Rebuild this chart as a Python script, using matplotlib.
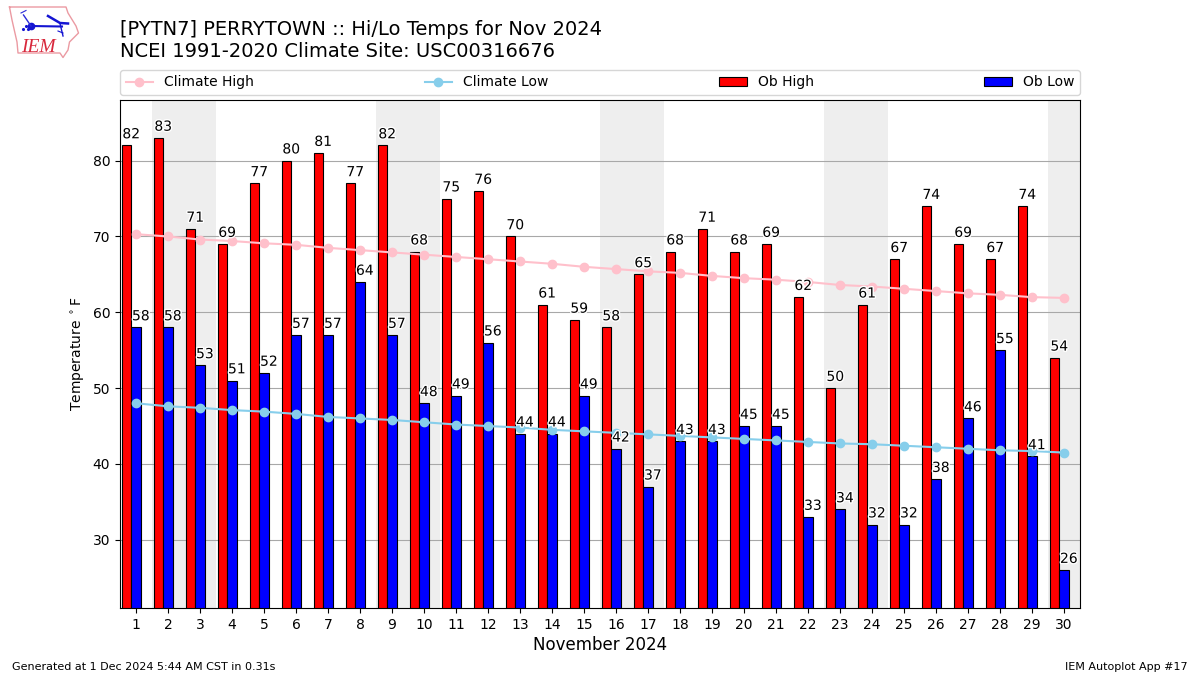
import matplotlib
matplotlib.use("Agg")
import matplotlib.pyplot as plt
import matplotlib.patheffects as pe
import numpy as np

days = list(range(1, 31))
ob_high = [82, 83, 71, 69, 77, 80, 81, 77, 82, 68, 75, 76, 70, 61, 59, 58, 65, 68, 71, 68, 69, 62, 50, 61, 67, 74, 69, 67, 74, 54]
ob_low = [58, 58, 53, 51, 52, 57, 57, 64, 57, 48, 49, 56, 44, 44, 49, 42, 37, 43, 43, 45, 45, 33, 34, 32, 32, 38, 46, 55, 41, 26]
climate_high = [70.3, 70.0, 69.6, 69.4, 69.1, 68.9, 68.5, 68.2, 67.9, 67.6, 67.3, 67.0, 66.7, 66.4, 66.0,
                65.7, 65.4, 65.2, 64.8, 64.5, 64.3, 64.0, 63.6, 63.4, 63.1, 62.8, 62.5, 62.3, 62.0, 61.9]
climate_low = [48.0, 47.6, 47.4, 47.1, 46.9, 46.6, 46.2, 46.0, 45.8, 45.5, 45.2, 45.0, 44.8, 44.5, 44.3,
               44.1, 43.9, 43.7, 43.5, 43.3, 43.1, 42.9, 42.7, 42.6, 42.4, 42.2, 42.0, 41.8, 41.7, 41.5]
weekend_spans = [(1.5, 3.5), (8.5, 10.5), (15.5, 17.5), (22.5, 24.5), (29.5, 30.5)]
title_text = "[PYTN7] PERRYTOWN :: Hi/Lo Temps for Nov 2024\nNCEI 1991-2020 Climate Site: USC00316676"

W, H = 1200, 675
fig = plt.figure(figsize=(12, 6.75), dpi=100)
ax = fig.add_axes([120 / W, 1 - 608 / H, 960 / W, 508 / H])

x = np.array(days)
for a, b in weekend_spans:
    ax.axvspan(a, b, color="#eeeeee", lw=0, zorder=0)
ax.yaxis.grid(True, color="#a8a8a8", lw=0.8, zorder=1)
ax.set_axisbelow(True)

width = 0.3
ax.bar(x - 0.3, ob_high, width, color="red", edgecolor="black", lw=0.8, label="Ob High", zorder=2)
ax.bar(x, ob_low, width, color="blue", edgecolor="black", lw=0.8, label="Ob Low", zorder=2)
ax.plot(x, climate_high, color="pink", marker="o", lw=1.5, label="Climate High", zorder=4)
ax.plot(x, climate_low, color="skyblue", marker="o", lw=1.5, label="Climate Low", zorder=4)

halo = [pe.withStroke(linewidth=2, foreground="white")]
for d, v in zip(days, ob_high):
    ax.text(d - 0.15, v + 0.95, str(v), ha="center", va="baseline", fontsize=10, zorder=5, path_effects=halo)
for d, v in zip(days, ob_low):
    ax.text(d + 0.15, v + 0.95, str(v), ha="center", va="baseline", fontsize=10, zorder=5, path_effects=halo)

ax.set_xlim(0.5, 30.5)
ax.set_ylim(21, 88)
ax.set_xticks(days)
ax.set_yticks([30, 40, 50, 60, 70, 80])
ax.tick_params(labelsize=10)
ax.set_xlabel("November 2024", fontsize=12, labelpad=3)
ax.set_ylabel(r"Temperature $^\circ$F", fontsize=10)

fig.text(120 / W, 1 - 57 / H, title_text, fontsize=14, ha="left", va="baseline")

handles, labels = ax.get_legend_handles_labels()
order = [labels.index(n) for n in ["Climate High", "Climate Low", "Ob High", "Ob Low"]]
ax.legend([handles[i] for i in order], [labels[i] for i in order], loc="lower left",
          bbox_to_anchor=(0, 1 + 5 / 508, 1, 25 / 508), ncol=4, mode="expand", borderaxespad=0, fontsize=10)

fig.text(12 / W, 1 - 670 / H, "Generated at 1 Dec 2024 5:44 AM CST in 0.31s", fontsize=8, ha="left", va="baseline")
fig.text(1188 / W, 1 - 670 / H, "IEM Autoplot App #17", fontsize=8, ha="right", va="baseline")

# Logo
logo = fig.add_axes([0, 1 - 60 / H, 80 / W, 60 / H])
logo.set_xlim(0, 80)
logo.set_ylim(60, 0)
logo.axis("off")
outline_x = [9.5, 66, 68, 76, 78.5, 69.5, 68, 63, 60, 18, 17, 12, 9.5]
outline_y = [7, 7, 13, 26, 33, 42, 50, 57.5, 53, 53, 42, 20, 7]
logo.plot(outline_x, outline_y, color="#eb9aa2", lw=1)
logo.plot([31, 62], [26, 26.5], color="#1414d2", lw=1.5)
logo.plot([31], [26], "o", color="#1414d2", ms=4.5)
logo.plot([31, 23.5], [26, 15], color="#2a2ad8", lw=1)
logo.plot([21, 26], [13, 10.5], color="#2a2ad8", lw=0.8)
logo.plot([48, 60, 68], [16, 23, 23.5], color="#1414d2", lw=1.8)
logo.plot([60, 63], [23.5, 36], color="#1414d2", lw=1)
logo.plot([58, 63], [31, 33], color="#1414d2", lw=0.8)
logo.plot([23, 25.5, 28], [29, 26, 29], ".", color="#1414d2", ms=2.5)
logo.text(21.5, 51.5, "IEM", color="#d8283c", fontsize=14, family="Liberation Serif", style="italic", va="baseline")

fig.savefig("out.png", dpi=100)
